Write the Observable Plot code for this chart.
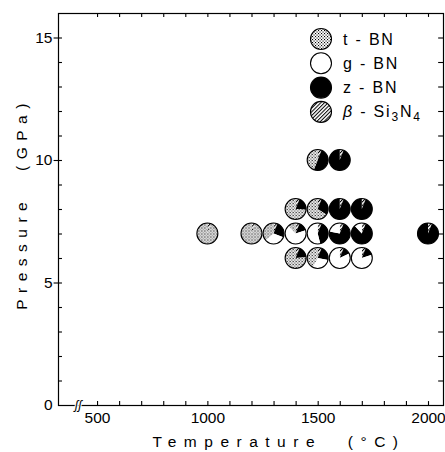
<!DOCTYPE html>
<html><head><meta charset="utf-8">
<script src="https://cdn.jsdelivr.net/npm/d3@7"></script>
<script src="https://cdn.jsdelivr.net/npm/@observablehq/plot@0.6"></script>
<style>
body{margin:0;background:#fff}
#chart svg{font-family:"Liberation Sans",Arial,sans-serif;background:#fff}
</style>
</head><body><div id="chart"></div>
<script>
// ---- data ----
const temperature = [1500,1600, 1400,1500,1600,1700, 1000,1200,1300,1400,1500,1600,1700,2000, 1400,1500,1600,1700];
const pressure    = [10,10,     8,8,8,8,            7,7,7,7,7,7,7,7,                          6,6,6,6];
// phase fractions of each sample (pie slices, clockwise from top)
const betaSi3N4 = [0.06,0.06, 0.06,0.06,0.06,0.06, 0.06,0.06,0.06,0.06,0.06,0.06,0.06,0.06, 0.06,0.06,0.06,0.06];
const zBN       = [0.50,0.94, 0.20,0.28,0.94,0.94, 0.00,0.00,0.25,0.14,0.40,0.72,0.82,0.94, 0.18,0.22,0.12,0.14];
const gBN       = [0.00,0.00, 0.00,0.00,0.00,0.00, 0.00,0.00,0.33,0.68,0.54,0.22,0.12,0.00, 0.00,0.30,0.82,0.80];
const tBN       = [0.44,0.00, 0.74,0.66,0.00,0.00, 0.94,0.94,0.36,0.12,0.00,0.00,0.00,0.00, 0.76,0.42,0.00,0.00];

const xTickLabels = [500,1000,1500,2000];
const xMinorTicks = d3.range(500, 2001, 100);
const yTickLabels = [0,5,10,15];
const yMinorTicks = d3.range(1, 16, 1);
const legendNames = ["t-BN","g-BN","z-BN","β-Si3N4"];
const xTitle = "Temperature (°C)";
const yTitle = "Pressure (GPa)";

const xDomain = [323, 2068];
const yDomain = [0, 16];
const R = 10.5;

function patterns(defs) {
  const st = defs.append("pattern").attr("id","stipple").attr("patternUnits","userSpaceOnUse")
    .attr("width",3).attr("height",3);
  st.append("rect").attr("width",3).attr("height",3).attr("fill","white");
  st.append("rect").attr("x",0).attr("y",0).attr("width",1.1).attr("height",1.1).attr("fill","black");
  st.append("rect").attr("x",1.5).attr("y",1.5).attr("width",1.1).attr("height",1.1).attr("fill","black");
  const ht = defs.append("pattern").attr("id","hatch").attr("patternUnits","userSpaceOnUse")
    .attr("width",2.6).attr("height",2.6).attr("patternTransform","rotate(45)");
  ht.append("rect").attr("width",2.6).attr("height",2.6).attr("fill","white");
  ht.append("rect").attr("x",0).attr("y",0).attr("width",1).attr("height",2.6).attr("fill","black");
}

function pieMark(index, scales, values, dimensions, context) {
  const g = d3.create("svg:g").attr("text-anchor","start");
  patterns(g.append("defs"));
  const fills = ["url(#hatch)","black","white","url(#stipple)"];
  const arc = d3.arc().innerRadius(0).outerRadius(R);
  const pie = d3.pie().sort(null).value(d => d.v);
  temperature.forEach((t, i) => {
    const cx = scales.x(t), cy = scales.y(pressure[i]);
    const parts = [betaSi3N4[i], zBN[i], gBN[i], tBN[i]].map((v, k) => ({v, f: fills[k]}));
    const gg = g.append("g").attr("transform", `translate(${cx},${cy})`);
    gg.selectAll("path").data(pie(parts).filter(d => d.data.v > 0)).join("path")
      .attr("d", arc).attr("fill", d => d.data.f);
    gg.append("circle").attr("r", R).attr("fill","none").attr("stroke","black").attr("stroke-width",1.1);
  });
  // legend (inside the frame, upper right)
  const lf = ["url(#stipple)","white","black","url(#hatch)"];
  const lx = dimensions.width - dimensions.marginRight - 122;
  legendNames.forEach((name, k) => {
    const ly = dimensions.marginTop + 26 + k * 24.3;
    g.append("circle").attr("cx", lx).attr("cy", ly).attr("r", 10.5)
      .attr("fill", lf[k]).attr("stroke","black").attr("stroke-width",1.1);
    const tx = g.append("text").attr("x", lx + 22).attr("y", ly + 5.5)
      .attr("font-size", 16).attr("fill","black").attr("letter-spacing", 1.8)
      .attr("text-anchor","start");
    const [pre, rest] = name.split("-");
    tx.append("tspan").text(pre).attr("font-style", pre === "β" ? "italic" : null);
    tx.append("tspan").text(" - ");
    let sub = false;
    rest.split(/(\d)/).filter(Boolean).forEach(part => {
      const s = tx.append("tspan").text(part);
      if (/\d/.test(part)) { s.attr("font-size", 12).attr("dy", 4); sub = true; }
      else if (sub) { s.attr("dy", -4); sub = false; }
    });
  });
  return g.node();
}

const chart = Plot.plot({
  width: 445,
  height: 452,
  marginLeft: 58,
  marginRight: 2,
  marginTop: 13,
  marginBottom: 47,
  style: {fontFamily: "Liberation Sans, Arial, sans-serif", background: "white"},
  x: {domain: xDomain, axis: null},
  y: {domain: yDomain, axis: null},
  marks: [
    Plot.frame({stroke: "black", strokeWidth: 1.2}),
    // bottom ticks (inward)
    Plot.ruleX(xMinorTicks, {x: d => d, y1: 0, y2: 0.16, stroke: "black", strokeWidth: 1.1}),
    // top ticks (inward)
    Plot.ruleX(xMinorTicks, {x: d => d, y1: 16, y2: 15.84, stroke: "black", strokeWidth: 1.1}),
    // left minor ticks (inward)
    Plot.ruleY(yMinorTicks, {y: d => d, x1: d => xDomain[0], x2: d => xDomain[0] + 18, stroke: "black", strokeWidth: 1.1}),
    // left major ticks (outward)
    Plot.ruleY(yTickLabels.slice(1), {y: d => d, x1: d => xDomain[0] - 20, x2: d => xDomain[0], stroke: "black", strokeWidth: 1.1}),
    // right ticks (inward)
    Plot.ruleY(yMinorTicks, {y: d => d, x1: d => xDomain[1] - 22, x2: d => xDomain[1], stroke: "black", strokeWidth: 1.1}),
    // axis break
    Plot.text(["ʃʃ"], {x: d => 412, y: d => 0, text: d => d, fontSize: 12, fontStyle: "italic", fill: "black", stroke: "white", strokeWidth: 2, paintOrder: "stroke"}),
    // tick labels
    Plot.text(xTickLabels, {x: d => d, y: d => 0, dy: 13, lineAnchor: "middle", text: d => String(d), fontSize: 15.5, fill: "black"}),
    Plot.text(yTickLabels, {x: d => xDomain[0], y: d => d, dx: -6, lineAnchor: "middle", text: d => String(d), textAnchor: "end", fontSize: 15.5, fill: "black"}),
    // axis titles
    Plot.text([xTitle], {frameAnchor: "bottom", dy: 37, dx: 28, lineAnchor: "middle", textAnchor: "middle", text: d => d, fontSize: 15.5, fill: "black"}),
    Plot.text([yTitle], {frameAnchor: "left", dx: -36, dy: -6, rotate: -90, lineAnchor: "middle", textAnchor: "middle", text: d => d, fontSize: 15.5, fill: "black"}),
    // pies + legend
    pieMark
  ]
});
d3.select(chart).selectAll("text").filter(function() {
  return this.textContent === xTitle;
}).attr("letter-spacing", 7.5).attr("word-spacing", 14);
d3.select(chart).selectAll("text").filter(function() {
  return this.textContent === yTitle;
}).attr("letter-spacing", 6.5).attr("word-spacing", 14);
document.getElementById("chart").append(chart);
</script>
</body></html>
